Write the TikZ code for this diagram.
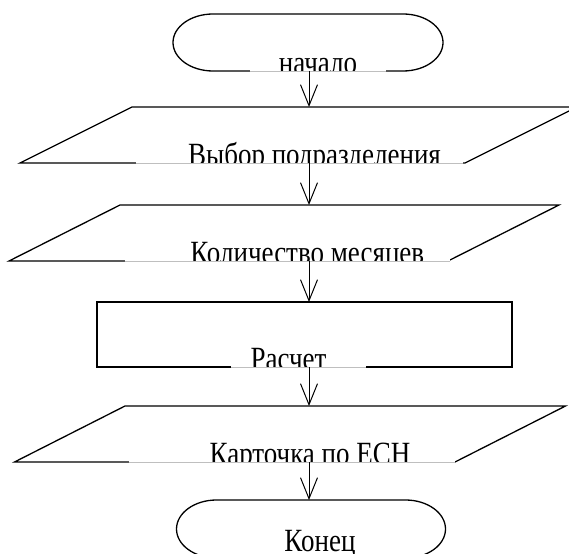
\documentclass[tikz,border=0pt]{standalone}
\usepackage{fontspec}
\setmainfont{Liberation Serif}
\usetikzlibrary{arrows.meta,calc}
\newcommand{\tallt}[1]{\scalebox{1}[1.2]{#1}}
\begin{document}
\begin{tikzpicture}[x=1pt,y=1pt,
  outline/.style={line width=1.3pt, line join=miter},
  frame/.style={inner sep=0pt, outer sep=0pt},
  lbl/.style={fill=white, inner sep=0pt, outer sep=0pt, minimum height=45pt, anchor=south},
  greyline/.style={draw=black!25, line width=0.6pt},
  conn/.style={line width=1pt, -{Straight Barb[length=21pt,width=17pt,line width=1pt]}},
  txt/.style={font=\fontsize{27}{30}\selectfont, inner sep=0pt, outer sep=0pt, anchor=base}
]
\useasboundingbox (0,0) rectangle (569,-553);
\clip (0,0) rectangle (569,-553);

% axis of the connectors
\coordinate (axis) at (309,0);

% start terminal
\node[frame, minimum width=270pt, minimum height=57pt] (t1) at (308,-42.5) {};
\draw[outline] ([xshift=40pt]t1.north west) -- ([xshift=-40pt]t1.north east)
  arc[start angle=90, end angle=-90, x radius=40pt, y radius=28.5pt]
  -- ([xshift=40pt]t1.south west)
  arc[start angle=270, end angle=90, x radius=40pt, y radius=28.5pt] -- cycle;
\node[lbl, minimum width=136pt, path picture={\node[txt] at ([yshift=-1.5pt]path picture bounding box.south) {\tallt{начало}};}] (l1) at (318,-71.65) {};
\draw[greyline] (l1.south west) -- (l1.south east);

% input 1
\node[frame, minimum width=557pt, minimum height=56pt] (p1) at (298.5,-135) {};
\draw[outline] ([xshift=112pt]p1.north west) -- (p1.north east)
  -- ([xshift=-112pt]p1.south east) -- (p1.south west) -- cycle;
\node[lbl, minimum width=327pt, path picture={\node[txt] at ([xshift=15pt,yshift=-1.5pt]path picture bounding box.south) {\tallt{Выбор подразделения}};}] (l2) at (299.5,-163.65) {};
\draw[greyline] (l2.south west) -- (l2.south east);

% input 2
\node[frame, minimum width=550pt, minimum height=56pt] (p2) at (284,-233) {};
\draw[outline] ([xshift=111pt]p2.north west) -- (p2.north east)
  -- ([xshift=-111pt]p2.south east) -- (p2.south west) -- cycle;
\node[lbl, minimum width=325.5pt, path picture={\node[txt] at ([xshift=20pt,yshift=-1.5pt]path picture bounding box.south) {\tallt{Количество месяцев}};}] (l3) at (287.25,-261.65) {};
\draw[greyline] (l3.south west) -- (l3.south east);

% process
\node[frame, minimum width=415pt, minimum height=65pt] (r) at (304.5,-334.5) {};
\draw[outline] (r.north west) rectangle (r.south east);
\node[lbl, minimum width=135pt, path picture={\node[txt] at ([xshift=-10pt,yshift=-1.5pt]path picture bounding box.south) {\tallt{Расчет}};}] (l4) at (298.5,-367.65) {};
\draw[greyline] (l4.south west) -- (l4.south east);

% output
\node[frame, minimum width=551pt, minimum height=56pt] (p3) at (290,-434) {};
\draw[outline] ([xshift=110.5pt]p3.north west) -- (p3.north east)
  -- ([xshift=-110.5pt]p3.south east) -- (p3.south west) -- cycle;
\node[lbl, minimum width=326pt, path picture={\node[txt] at ([xshift=18pt,yshift=-1.5pt]path picture bounding box.south) {\tallt{Карточка по ЕСН}};}] (l5) at (292,-462.65) {};
\draw[greyline] (l5.south west) -- (l5.south east);

% end terminal
\node[frame, minimum width=269pt, minimum height=58pt] (t2) at (311,-529) {};
\draw[outline] ([xshift=40pt]t2.north west) -- ([xshift=-40pt]t2.north east)
  arc[start angle=90, end angle=-90, x radius=40pt, y radius=29pt]
  -- ([xshift=40pt]t2.south west)
  arc[start angle=270, end angle=90, x radius=40pt, y radius=29pt] -- cycle;
\node[lbl, minimum width=136pt, path picture={\node[txt] at ([xshift=9pt,yshift=7.5pt]path picture bounding box.south) {\tallt{Конец}};}] (l6) at (311,-558.65) {};

% connectors
\draw[conn] (axis |- t1.south) -- (axis |- p1.north);
\draw[conn] (axis |- p1.south) -- (axis |- p2.north);
\draw[conn] (axis |- p2.south) -- (axis |- r.north);
\draw[conn] (axis |- r.south) -- (axis |- p3.north);
\draw[conn] (axis |- p3.south) -- (axis |- t2.north);
\end{tikzpicture}
\end{document}
